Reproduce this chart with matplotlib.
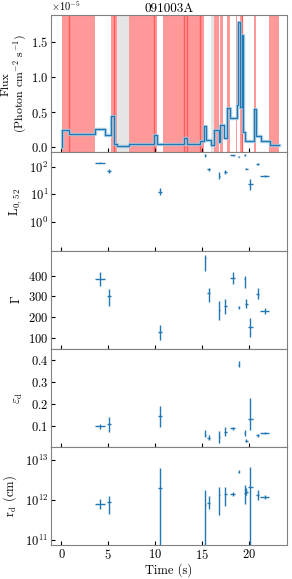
import numpy as np
import matplotlib
matplotlib.use("Agg")
from matplotlib import pyplot as plt

plt.rcParams['font.family'] = 'serif'
plt.rcParams['font.serif'] = ['cmr10', 'DejaVu Serif']
plt.rcParams['mathtext.fontset'] = 'cm'
plt.rcParams['axes.formatter.use_mathtext'] = True
plt.rcParams['axes.unicode_minus'] = False

## flux light curve (step, values hold from edge i to edge i+1)
edges = [0.07, 0.78, 3.63, 4.70, 5.34, 5.59, 5.94, 7.18, 9.86, 10.21, 13.06, 13.41,
         14.76, 15.19, 15.47, 15.97, 16.33, 16.79, 16.97, 17.32, 17.68, 17.96, 18.75,
         18.89, 19.10, 19.24, 19.39, 19.64, 20.60, 20.74, 21.35, 22.23, 23.19]
flux = [0.25, 0.195, 0.256, 0.18, 0.45, 0.05, 0.02, 0.05, 0.18, 0.045, 0.14, 0.045,
        0.09, 0.31, 0.10, 0.03, 0.25, 0.08, 0.32, 0.14, 0.565, 0.42, 0.61,
        1.78, 0.58, 1.60, 0.22, 0.09, 0.54, 0.17, 0.09, 0.03]
flux = [f * 1e-5 for f in flux]

## selected intervals (red) and excluded ones (grey)
red_spans = [(0.07, 0.78), (0.78, 3.63), (5.34, 5.59), (5.59, 5.94), (7.18, 9.86),
             (9.86, 10.21), (10.85, 13.06), (13.06, 13.41), (13.41, 14.76), (14.76, 15.19),
             (16.33, 16.79), (16.90, 17.30), (17.68, 17.96), (18.60, 18.75),
             (19.03, 19.24), (19.24, 19.39), (20.60, 20.74), (22.20, 23.20)]
grey_spans = [(5.94, 7.18), (15.97, 16.33)]

## fitted parameters
t = [4.16, 5.05, 10.57, 15.37, 15.72, 16.86, 17.50, 18.28, 18.92, 19.56, 19.74, 20.17, 20.95, 21.70]
t_err = [0.53, 0.22, 0.22, 0.08, 0.2, 0.05, 0.15, 0.3, 0.1, 0.05, 0.15, 0.25, 0.2, 0.5]

L = [141, 69, 12.6, 257, 80, 48, 65, 257, 230, 275, 85, 23, 128, 46]
L_lo = [133, 58, 9.5, 235, 72, 36, 55, 245, 222, 250, 80, 14, 120, 43]
L_hi = [150, 83, 16.6, 290, 89, 62, 76, 270, 238, 300, 90, 37, 137, 49]

gam = [384, 300, 126, 485, 316, 236, 252, 389, 247, 384, 265, 152, 313, 231]
gam_lo = [32, 45, 35, 62, 45, 51, 35, 28, 8, 43, 20, 50, 25, 15]
gam_hi = [32, 35, 35, 12, 24, 43, 35, 28, 8, 13, 20, 42, 25, 15]

eps = [0.097, 0.109, 0.145, 0.059, 0.044, 0.049, 0.074, 0.088, 0.377, 0.067, 0.033, 0.13, 0.056, 0.067]
eps_lo = [0.012, 0.035, 0.052, 0.012, 0.008, 0.026, 0.02, 0.008, 0.012, 0.012, 0.006, 0.048, 0.007, 0.005]
eps_hi = [0.012, 0.033, 0.045, 0.022, 0.015, 0.026, 0.02, 0.008, 0.018, 0.015, 0.006, 0.095, 0.008, 0.005]

rd = [7.9e11, 8.7e11, 2.0e12, 7.5e11, 8.5e11, 1.3e12, 1.4e12, 1.4e12, 5.1e12, 1.5e12, 1.6e12, 2.1e12, 1.3e12, 1.2e12]
rd_lo = [6.0e11, 4.5e11, 5e10, 5e10, 5.8e11, 4.1e11, 7.1e11, 1.23e12, 4.8e12, 7.9e11, 1.29e12, 5e10, 1.0e12, 1.07e12]
rd_hi = [1.05e12, 1.26e12, 6.2e12, 1.8e12, 1.26e12, 2.1e12, 2.1e12, 1.62e12, 5.5e12, 2.3e12, 2.0e12, 6.5e12, 1.8e12, 1.35e12]

blue = '#1f77b4'
fs_lab = 9
fs_tick = 9

fig = plt.figure(figsize=(2.92, 5.79), dpi=100)
gs = fig.add_gridspec(5, 1, height_ratios=[1.4, 1, 1, 1, 1], hspace=0,
                      left=0.175, right=0.983, top=0.974, bottom=0.059)
axs = [fig.add_subplot(gs[0])]
for i in range(1, 5):
    axs.append(fig.add_subplot(gs[i], sharex=axs[0]))

## panel 1: flux
ax = axs[0]
for a, b in red_spans:
    ax.axvspan(a, b, color='red', alpha=0.4, lw=0)
for (a, b), (c, d) in zip(red_spans[:-1], red_spans[1:]):
    if abs(b - c) < 1e-6:
        ax.axvline(b, color='red', alpha=0.4, lw=1)
for a, b in grey_spans:
    ax.axvspan(a, b, color='grey', alpha=0.2, lw=0)
xs = [edges[0]] + edges
ys = [0] + flux + [flux[-1]]
ax.step(xs, ys, where='post', color='#9ecae1', lw=2.5, alpha=0.8)
ax.step(xs, ys, where='post', color=blue, lw=0.9)
ax.set_ylim(-0.07e-5, 1.88e-5)
ax.set_yticks([0, 0.5e-5, 1.0e-5, 1.5e-5])
## two-line y label, placed line by line
ax.text(-0.19, 0.5, 'Flux', transform=ax.transAxes, rotation=90,
        ha='center', va='center', fontsize=fs_lab - 0.5)
ax.text(-0.13, 0.5, '(Photon cm$^{-2}$ s$^{-1}$)', transform=ax.transAxes, rotation=90,
        ha='center', va='center', fontsize=fs_lab - 0.5)
ax.set_title('091003A', fontsize=fs_lab + 0.5, pad=2)

## panel 2: luminosity
ax = axs[1]
ax.errorbar(t, L, xerr=t_err,
            yerr=[np.array(L) - np.array(L_lo), np.array(L_hi) - np.array(L)],
            fmt='none', ecolor=blue, elinewidth=1)
ax.set_yscale('log')
ax.set_ylim(0.091, 331)
ax.set_yticks([1, 10, 100])
ax.minorticks_off()
ax.set_ylabel(r'L$_{0,\,52}$', fontsize=fs_lab)

## panel 3: Gamma
ax = axs[2]
ax.errorbar(t, gam, xerr=t_err, yerr=[gam_lo, gam_hi],
            fmt='none', ecolor=blue, elinewidth=1)
ax.set_ylim(48, 521)
ax.set_yticks([100, 200, 300, 400])
ax.set_ylabel(r'$\Gamma$', fontsize=fs_lab)

## panel 4: epsilon_d
ax = axs[3]
ax.errorbar(t, eps, xerr=t_err, yerr=[eps_lo, eps_hi],
            fmt='none', ecolor=blue, elinewidth=1)
ax.set_ylim(0.005, 0.45)
ax.set_yticks([0.1, 0.2, 0.3, 0.4])
ax.set_ylabel(r'$\varepsilon_{\rm d}$', fontsize=fs_lab)

## panel 5: r_d
ax = axs[4]
ax.errorbar(t, rd, xerr=t_err,
            yerr=[np.array(rd) - np.array(rd_lo), np.array(rd_hi) - np.array(rd)],
            fmt='none', ecolor=blue, elinewidth=1)
ax.set_yscale('log')
ax.set_ylim(7.5e10, 2.14e13)
ax.set_yticks([1e11, 1e12, 1e13])
ax.minorticks_off()
ax.set_ylabel(r'r$_{\rm d}$ (cm)', fontsize=fs_lab)
ax.set_xlabel('Time (s)', fontsize=fs_lab, labelpad=1)

axs[0].set_xlim(-1.1, 24.1)
axs[0].set_xticks([0, 5, 10, 15, 20])
for i, ax in enumerate(axs):
    ax.tick_params(direction='in', labelsize=fs_tick, length=3, colors='black', pad=2)
    for s in ax.spines.values():
        s.set_color('0.5')
    if i < 4:
        ax.tick_params(labelbottom=False)
off = axs[0].yaxis.get_offset_text()
off.set_fontsize(fs_tick - 1.5)
off.set_verticalalignment('baseline')

fig.savefig('out.png', dpi=100)
